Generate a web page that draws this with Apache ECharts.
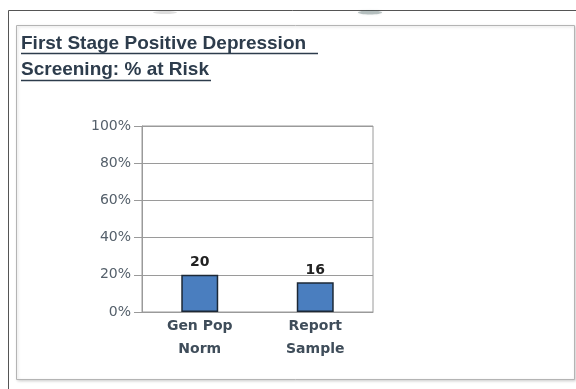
<!DOCTYPE html>
<html>
<head>
<meta charset="utf-8">
<script src="https://cdn.jsdelivr.net/npm/echarts@6/dist/echarts.min.js"></script>
<style>
  html, body { margin: 0; padding: 0; background: #ffffff; }
  #chart { width: 576px; height: 389px; }
</style>
</head>
<body>
<div id="chart"></div>
<script>
// Chart data
const categories = ['Gen Pop\nNorm', 'Report\nSample'];
const riskValues = [20, 16];
const yTicks = [0, 20, 40, 60, 80, 100];
const titleLines = ['First Stage Positive Depression', 'Screening: % at Risk'];

const TITLE_FONT = '"Liberation Sans", Arial, sans-serif';
const AXIS_FONT = '"DejaVu Sans", Verdana, sans-serif';
const TITLE_COLOR = '#2d3c4c';

const chart = echarts.init(document.getElementById('chart'), null, { renderer: 'canvas' });

chart.setOption({
  backgroundColor: '#ffffff',
  animation: false,
  graphic: [
    // outer frame (top and left edges)
    { type: 'line', shape: { x1: 8.5, y1: 10.5, x2: 576, y2: 10.5 }, style: { stroke: '#555', lineWidth: 1 } },
    { type: 'line', shape: { x1: 8.5, y1: 10.5, x2: 8.5, y2: 389 }, style: { stroke: '#555', lineWidth: 1 } },
    // soft smudges under the frame's top edge
    { type: 'ellipse', shape: { cx: 165, cy: 12.5, rx: 12, ry: 1.5 }, style: { fill: 'rgba(0,0,0,0.12)', shadowColor: 'rgba(0,0,0,0.15)', shadowBlur: 3 } },
    { type: 'ellipse', shape: { cx: 370, cy: 12.5, rx: 12, ry: 2 }, style: { fill: 'rgba(40,70,70,0.3)', shadowColor: 'rgba(40,70,70,0.3)', shadowBlur: 3 } },
    // inner panel
    {
      type: 'rect',
      shape: { x: 16.5, y: 25.5, width: 558, height: 354 },
      style: { fill: '#ffffff', stroke: '#b4b4b4', lineWidth: 1, shadowColor: 'rgba(0,0,0,0.18)', shadowBlur: 3, shadowOffsetX: 1, shadowOffsetY: 1 },
      z: -10
    },
    // underlined two-line heading
    { type: 'text', left: 21, top: 34, style: { text: titleLines[0], font: 'bold 19px ' + TITLE_FONT, fill: TITLE_COLOR } },
    { type: 'line', shape: { x1: 21, y1: 53.5, x2: 318, y2: 53.5 }, style: { stroke: TITLE_COLOR, lineWidth: 1.5 } },
    { type: 'text', left: 21, top: 60, style: { text: titleLines[1], font: 'bold 19px ' + TITLE_FONT, fill: TITLE_COLOR } },
    { type: 'line', shape: { x1: 21, y1: 80.5, x2: 211, y2: 80.5 }, style: { stroke: TITLE_COLOR, lineWidth: 1.5 } }
  ],
  grid: { left: 142, right: 203, top: 126, bottom: 77, show: true, borderColor: '#9a9a9a', borderWidth: 1 },
  xAxis: {
    type: 'category',
    data: categories,
    axisLine: { show: true, lineStyle: { color: '#9a9a9a', width: 1 } },
    axisTick: { show: false },
    axisLabel: {
      color: '#3f4d5a', fontFamily: AXIS_FONT, fontWeight: 'bold', fontSize: 14,
      lineHeight: 23, margin: 3
    }
  },
  yAxis: {
    type: 'value',
    min: yTicks[0],
    max: yTicks[yTicks.length - 1],
    interval: yTicks[1] - yTicks[0],
    axisLine: { show: true, lineStyle: { color: '#9a9a9a', width: 1 } },
    axisTick: { show: true, length: 8, lineStyle: { color: '#9a9a9a' } },
    splitLine: { show: true, lineStyle: { color: '#9a9a9a', width: 1 } },
    axisLabel: {
      color: '#55606b', fontFamily: AXIS_FONT, fontSize: 14, margin: 11,
      verticalAlign: 'middle', padding: [0, 0, 4, 0], formatter: '{value}%'
    }
  },
  series: [{
    type: 'bar',
    data: riskValues,
    barWidth: '32%',
    itemStyle: { color: '#4a7ebf', borderColor: '#1c2836', borderWidth: 1.5 },
    label: {
      show: true, position: 'top', distance: 5,
      color: '#222', fontFamily: AXIS_FONT, fontWeight: 'bold', fontSize: 14
    }
  }]
});
</script>
</body>
</html>
